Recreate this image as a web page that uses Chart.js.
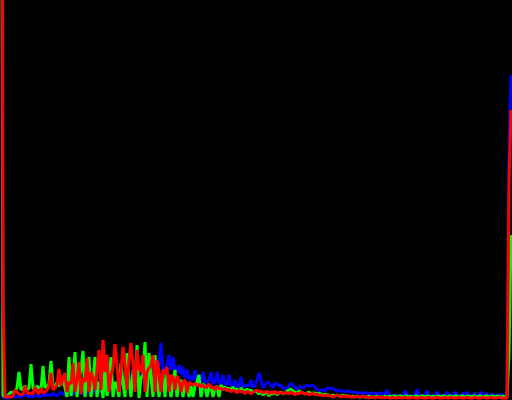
<!DOCTYPE html>
<html>
<head>
<meta charset="utf-8">
<script src="https://cdn.jsdelivr.net/npm/chart.js@4/dist/chart.umd.min.js"></script>
<style>
html,body{margin:0;padding:0;background:#000;}
#wrap{width:512px;height:400px;background:#000;}
</style>
</head>
<body>
<div id="wrap"><canvas id="c" width="512" height="400"></canvas></div>
<script>
// Histogram bins (intensity levels 0..255)
const bins = Array.from({length: 256}, (_, i) => String(i));

const redCounts = [
1500,100,3,3,4,3,4,10,8,6,5,6,14,8,6,7,
6,13,8,6,12,7,8,10,14,27,10,12,15,31,14,22,
27,8,18,16,37,8,20,38,6,22,18,42,8,28,22,10,
30,50,10,60,28,45,8,25,32,56,35,8,30,53,35,10,
40,57,35,8,50,32,28,45,8,28,32,35,45,8,40,28,
8,30,26,33,8,25,23,10,24,20,8,18,20,7,18,16,
15,17,14,16,13,15,12,14,16,12,13,10,14,11,12,10,
12,9,11,8,10,9,7,10,8,9,6,9,8,6,8,9,
10,8,9,7,8,9,6,8,7,9,6,8,7,6,8,7,
6,8,7,5,7,6,8,7,6,7,5,6,7,5,6,5,
5,4,5,4,5,4,3,4,5,4,3,4,4,3,4,3,
3,3,4,3,3,4,3,3,2,3,3,2,3,3,2,3,
2,3,2,2,3,2,2,3,2,2,3,2,2,2,3,2,
2,2,3,2,2,2,3,2,2,2,3,2,2,2,3,2,
2,3,2,2,2,3,2,2,2,3,2,2,2,3,2,2,
2,3,2,2,2,3,2,2,2,3,2,2,2,2,217,290
];

const greenCounts = [
1000,4,4,3,6,8,7,9,12,28,10,12,14,10,12,36,
12,10,14,12,10,34,12,14,16,39,14,12,18,14,16,22,
12,3,43,4,20,48,3,22,30,49,3,20,43,3,20,43,
3,18,16,2,33,4,16,43,3,18,14,3,37,16,3,47,
20,3,30,18,55,2,22,25,58,3,47,22,3,45,20,3,
18,25,3,28,18,3,18,30,3,18,20,3,18,15,3,14,
3,14,18,25,3,16,14,3,12,14,3,12,14,3,15,12,
13,11,12,10,13,10,11,9,12,10,9,11,9,10,8,9,
8,6,8,5,7,8,4,7,6,8,5,7,8,6,7,9,
10,11,9,8,7,9,8,7,6,7,8,6,7,7,6,7,
6,5,6,5,5,4,5,4,5,4,4,5,4,4,4,3,
4,3,4,3,3,4,3,3,4,3,3,3,4,3,3,3,
4,3,4,3,4,4,3,4,4,3,4,4,3,4,3,4,
4,3,4,4,3,4,4,3,4,3,4,4,3,4,4,3,
4,4,3,4,4,3,4,4,3,4,4,3,4,4,3,4,
4,3,4,4,3,4,4,3,4,4,3,4,3,3,45,165
];

const blueCounts = [
900,3,2,2,3,3,4,3,3,4,3,4,5,4,3,4,
3,4,5,3,4,5,4,6,5,4,7,5,4,6,8,6,
5,6,7,8,6,7,15,8,6,7,8,9,7,8,10,8,
9,8,10,13,9,10,11,12,10,12,20,12,14,16,22,15,
18,25,16,20,28,18,22,30,20,24,32,22,26,30,24,35,
57,30,28,35,45,30,43,30,28,35,25,33,22,30,20,24,
20,30,18,25,17,28,18,18,20,28,16,18,28,16,17,25,
15,16,25,14,15,20,13,14,23,13,14,15,14,20,13,14,
20,27,20,12,15,18,17,14,13,17,16,14,15,12,11,12,
14,17,15,12,11,13,13,12,14,15,14,14,15,13,10,10,
10,10,9,12,12,11,12,10,10,9,9,9,8,9,9,8,
8,8,7,7,7,7,7,7,6,7,7,6,6,7,7,6,
5,10,6,4,4,5,4,4,4,5,9,5,4,4,5,4,
11,5,4,4,5,9,4,4,4,5,8,4,4,5,4,8,
4,5,4,8,5,4,4,7,4,8,5,4,4,7,4,4,
8,5,4,7,4,4,6,4,4,4,6,4,4,4,243,325
];

new Chart(document.getElementById('c'), {
  type: 'line',
  data: {
    labels: bins,
    datasets: [
      {label: 'R', data: redCounts, borderColor: '#ff0000', borderWidth: 3, borderJoinStyle: 'bevel', pointRadius: 0, tension: 0, fill: false},
      {label: 'G', data: greenCounts, borderColor: '#00ff00', borderWidth: 3, borderJoinStyle: 'bevel', pointRadius: 0, tension: 0, fill: false},
      {label: 'B', data: blueCounts, borderColor: '#0000ff', borderWidth: 3, borderJoinStyle: 'bevel', pointRadius: 0, tension: 0, fill: false}
    ]
  },
  options: {
    responsive: false,
    animation: false,
    layout: {padding: 0},
    plugins: {legend: {display: false}, tooltip: {enabled: false}},
    scales: {
      x: {display: false, offset: true},
      y: {display: false, min: 0, max: 400}
    }
  }
});
</script>
</body>
</html>
